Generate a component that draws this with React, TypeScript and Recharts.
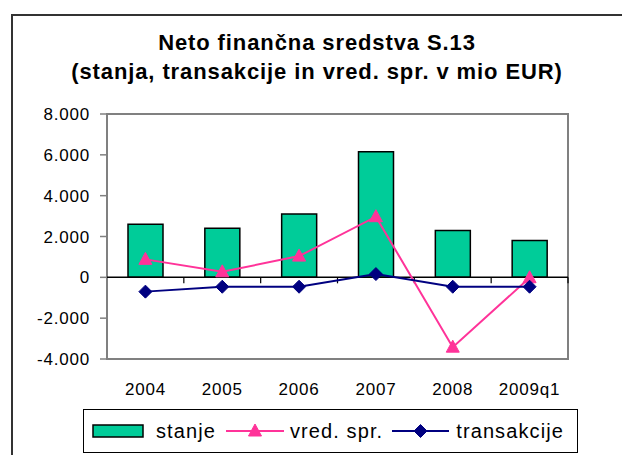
import React from 'react';
import {
  ComposedChart,
  Bar,
  Line,
  XAxis,
  YAxis,
  ReferenceLine,
  ReferenceArea,
} from 'recharts';

const categories = ['2004', '2005', '2006', '2007', '2008', '2009q1'];
const stanje = [2600, 2400, 3100, 6150, 2300, 1800];
const vredSpr = [880, 270, 1040, 2970, -3420, -20];
const transakcije = [-700, -460, -460, 160, -460, -460];
const yTicks = [-4000, -2000, 0, 2000, 4000, 6000, 8000];

const titleLines = ['Neto finančna sredstva S.13', '(stanja, transakcije in vred. spr. v mio EUR)'];
const seriesNames = { stanje: 'stanje', vred: 'vred. spr.', trans: 'transakcije' };

const BAR_COLOR = '#00CC99';
const PINK = '#FF3399';
const NAVY = '#000080';

const data = categories.map((c, i) => ({
  cat: c,
  stanje: stanje[i],
  vred: vredSpr[i],
  trans: transakcije[i],
}));

const fmt = (v: number) => {
  if (v === 0) return '0';
  const s = Math.abs(v).toString();
  const withDots = s.replace(/\B(?=(\d{3})+(?!\d))/g, '.');
  return (v < 0 ? '-' : '') + withDots;
};

const Triangle = (props: any) => {
  const { cx, cy } = props;
  if (cx == null || cy == null) return null;
  return (
    <polygon
      points={`${cx},${cy - 7} ${cx - 6.5},${cy + 5} ${cx + 6.5},${cy + 5}`}
      fill={PINK}
      stroke={PINK}
      strokeWidth={1}
    />
  );
};

const Diamond = (props: any) => {
  const { cx, cy } = props;
  if (cx == null || cy == null) return null;
  return (
    <polygon
      points={`${cx},${cy - 6.5} ${cx + 6.5},${cy} ${cx},${cy + 6.5} ${cx - 6.5},${cy}`}
      fill={NAVY}
      stroke={NAVY}
      strokeWidth={1}
    />
  );
};

const XTick = (props: any) => {
  const { x, y, payload } = props;
  return (
    <text x={x} y={y} dy="0.71em" textAnchor="middle" fontSize={17} fill="#000" letterSpacing={0.8}>
      {payload.value}
    </text>
  );
};

const ZeroLine = (props: any) => {
  const { x1, y1, x2, y2 } = props;
  if (x1 == null) return null;
  const n = categories.length;
  const step = (x2 - x1) / n;
  const ticks = [];
  for (let i = 1; i <= n; i++) {
    const x = x1 + i * step;
    ticks.push(<line key={i} x1={x} y1={y1} x2={x} y2={y1 + 6} stroke="#000" strokeWidth={1.2} />);
  }
  return (
    <g>
      <line x1={x1} y1={y1} x2={x2} y2={y2} stroke="#000" strokeWidth={1.5} />
      {ticks}
    </g>
  );
};

const Legend2 = () => (
  <div
    style={{
      position: 'absolute',
      left: 83,
      top: 409,
      width: 495,
      height: 44,
      boxSizing: 'border-box',
      border: '1.5px solid #000',
      display: 'flex',
      alignItems: 'center',
      fontSize: 20,
      letterSpacing: 1.1,
      background: '#fff',
    }}
  >
    <svg width={52} height={14} style={{ marginLeft: 8, display: 'block' }}>
      <rect x={1} y={1} width={50} height={12} fill={BAR_COLOR} stroke="#000" strokeWidth={1.5} />
    </svg>
    <span style={{ marginLeft: 12 }}>{seriesNames.stanje}</span>
    <svg width={58} height={14} style={{ marginLeft: 10, display: 'block' }}>
      <line x1={0} y1={7} x2={58} y2={7} stroke={PINK} strokeWidth={2} />
      <Triangle cx={29} cy={7} />
    </svg>
    <span style={{ marginLeft: 6 }}>{seriesNames.vred}</span>
    <svg width={57} height={14} style={{ marginLeft: 9, display: 'block' }}>
      <line x1={0} y1={7} x2={57} y2={7} stroke={NAVY} strokeWidth={2} />
      <Diamond cx={28.5} cy={7} />
    </svg>
    <span style={{ marginLeft: 7 }}>{seriesNames.trans}</span>
  </div>
);

export default function App() {
  return (
    <div
      style={{
        position: 'fixed',
        left: 0,
        top: 0,
        width: 622,
        height: 455,
        overflow: 'hidden',
        background: '#fff',
        fontFamily: '"Liberation Sans", Arial, sans-serif',
        color: '#000',
      }}
    >
      <div
        style={{
          position: 'absolute',
          left: 11,
          top: 14,
          width: 700,
          height: 600,
          border: '2px solid #333',
          boxSizing: 'border-box',
        }}
      />
      <div
        style={{
          position: 'absolute',
          left: 0,
          top: 28,
          width: 634,
          textAlign: 'center',
          fontWeight: 'bold',
          fontSize: 22,
          lineHeight: '29px',
          letterSpacing: 0.9,
        }}
      >
        {titleLines.map((t) => (
          <div key={t}>{t}</div>
        ))}
      </div>
      <ComposedChart
        width={622}
        height={455}
        data={data}
        margin={{ top: 114, right: 54, bottom: 56, left: 27 }}
        style={{ position: 'absolute', left: 0, top: 0 }}
      >
        <ReferenceArea y1={-4000} y2={8000} stroke="#808080" strokeWidth={2} fill="none" fillOpacity={0} />
        <XAxis
          dataKey="cat"
          axisLine={false}
          tickLine={false}
          tickSize={0}
          tickMargin={24}
          height={40}
          interval={0}
          tick={<XTick />}
        />
        <YAxis
          domain={[-4000, 8000]}
          ticks={yTicks}
          tickFormatter={fmt}
          width={80}
          axisLine={false}
          tickLine={{ stroke: '#808080', strokeWidth: 1.5 }}
          tickSize={7}
          tickMargin={10}
          interval={0}
          tick={{ fontSize: 17, fill: '#000', letterSpacing: 0.8 }}
        />
        <Bar
          dataKey="stanje"
          name={seriesNames.stanje}
          barSize={35}
          fill={BAR_COLOR}
          stroke="#000"
          strokeWidth={1.5}
          isAnimationActive={false}
        />
        <ReferenceLine y={0} shape={ZeroLine} />
        <Line
          dataKey="vred"
          name={seriesNames.vred}
          stroke={PINK}
          strokeWidth={2}
          dot={Triangle}
          activeDot={false}
          isAnimationActive={false}
        />
        <Line
          dataKey="trans"
          name={seriesNames.trans}
          stroke={NAVY}
          strokeWidth={2}
          dot={Diamond}
          activeDot={false}
          isAnimationActive={false}
        />
      </ComposedChart>
      <Legend2 />
    </div>
  );
}
